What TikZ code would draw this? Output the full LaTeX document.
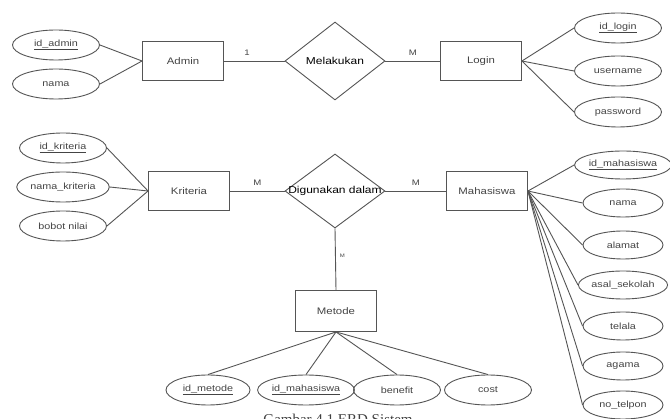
\documentclass[tikz,border=0pt]{standalone}
\usepackage{fontspec}
\setmainfont{Liberation Sans}[FakeStretch=1.2]
\newfontfamily\capfont{Liberation Serif}
\usetikzlibrary{shapes.geometric}
\definecolor{ln}{HTML}{555555}
\definecolor{tx}{HTML}{444444}
\tikzset{
  ent/.style={draw=ln, line width=0.9pt, rectangle, minimum width=81pt, minimum height=39pt, inner sep=0pt, text=tx, font=\fontsize{9.5}{10}\selectfont},
  attr/.style={draw=ln, line width=0.9pt, ellipse, minimum width=87pt, minimum height=30pt, inner sep=0pt, text=tx, font=\fontsize{9}{10}\selectfont},
  mattr/.style={attr, minimum width=80pt, minimum height=28pt},
  rel/.style={draw=ln, line width=0.9pt, diamond, minimum width=100pt, minimum height=78pt, inner sep=0pt, text=tx, font=\fontsize{9.5}{10}\selectfont},
  card/.style={text=tx, font=\fontsize{8}{9}\selectfont, inner sep=0pt},
  conn/.style={draw=ln, line width=0.9pt},
}
\newcommand{\key}[1]{\underline{#1}}
\begin{document}
\begin{tikzpicture}[x=1pt,y=-1pt]
\clip (0,0) rectangle (670,419);
\fill[white] (0,0) rectangle (670,419);
% top row
\node[attr] (ida) at (56,45) {\key{id\_admin}};
\node[attr] (nma) at (56,84) {nama};
\node[ent] (admin) at (183,61) {Admin};
\node[rel, label={center:Melakukan}] (mel) at (335,61) {};
\node[ent] (login) at (481,61) {Login};
\node[attr] (idl) at (618,28) {\key{id\_login}};
\node[attr] (usr) at (618,71) {username};
\node[attr] (pwd) at (618,112) {password};
\draw[conn] (ida.east) -- (admin.west);
\draw[conn] (nma.east) -- (admin.west);
\draw[conn] (admin.east) -- node[card, above=5pt, pos=0.38] {1} (mel.west);
\draw[conn] (mel.east) -- node[card, above=5pt, pos=0.5] {M} (login.west);
\draw[conn] (login.east) -- (idl.west);
\draw[conn] (login.east) -- (usr.west);
\draw[conn] (login.east) -- (pwd.west);
% second row
\node[attr] (idk) at (63,148) {\key{id\_kriteria}};
\node[attr] (nmk) at (63,187) {nama\_kriteria};
\node[attr] (bbn) at (63,226) {bobot nilai};
\node[ent] (krit) at (189,191) {Kriteria};
\node[rel, minimum height=74pt, label={center:Digunakan dalam}] (dig) at (335,191) {};
\node[ent] (mhs) at (487,191) {Mahasiswa};
\node[ent, minimum height=41pt] (met) at (336,311) {Metode};
\draw[conn] (idk.east) -- (krit.west);
\draw[conn] (nmk.east) -- (krit.west);
\draw[conn] (bbn.east) -- (krit.west);
\draw[conn] (krit.east) -- node[card, above=5pt, pos=0.5] {M} (dig.west);
\draw[conn] (dig.east) -- node[card, above=5pt, pos=0.5] {M} (mhs.west);
\draw[conn] (dig.south) -- node[card, right=4pt, pos=0.45, font=\fontsize{5}{6}\selectfont] {M} (met.north);
% mahasiswa attributes
\node[mattr] (idm) at (623,165) {\key{id\_mahasiswa}};
\node[mattr] (nmm) at (623,203) {nama};
\node[mattr] (alm) at (623,245) {alamat};
\node[mattr] (asl) at (623,285) {asal\_sekolah};
\node[mattr] (ttl) at (623,326) {telala};
\node[mattr] (agm) at (623,366) {agama};
\node[mattr] (tlp) at (623,405) {no\_telpon};
\foreach \a in {idm,nmm,alm,asl,ttl,agm,tlp}
  \draw[conn] (mhs.east) -- (\a.west);
% metode attributes
\node[attr, minimum width=84pt] (idme) at (208,390) {\key{id\_metode}};
\node[attr] (idmh) at (306,390) {\key{id\_mahasiswa}};
\node[attr] (ben) at (397,390) {benefit};
\node[attr] (cst) at (488,390) {cost};
\foreach \a in {idme,idmh,ben,cst}
  \draw[conn] (met.south) -- (\a.north);
% caption (cut off at the bottom edge)
\node[anchor=north, text=black!75, font=\capfont\fontsize{15}{16}\selectfont, inner sep=0pt] (cap) at (338,414) {Gambar 4.1 ERD Sistem};
\end{tikzpicture}
\end{document}
